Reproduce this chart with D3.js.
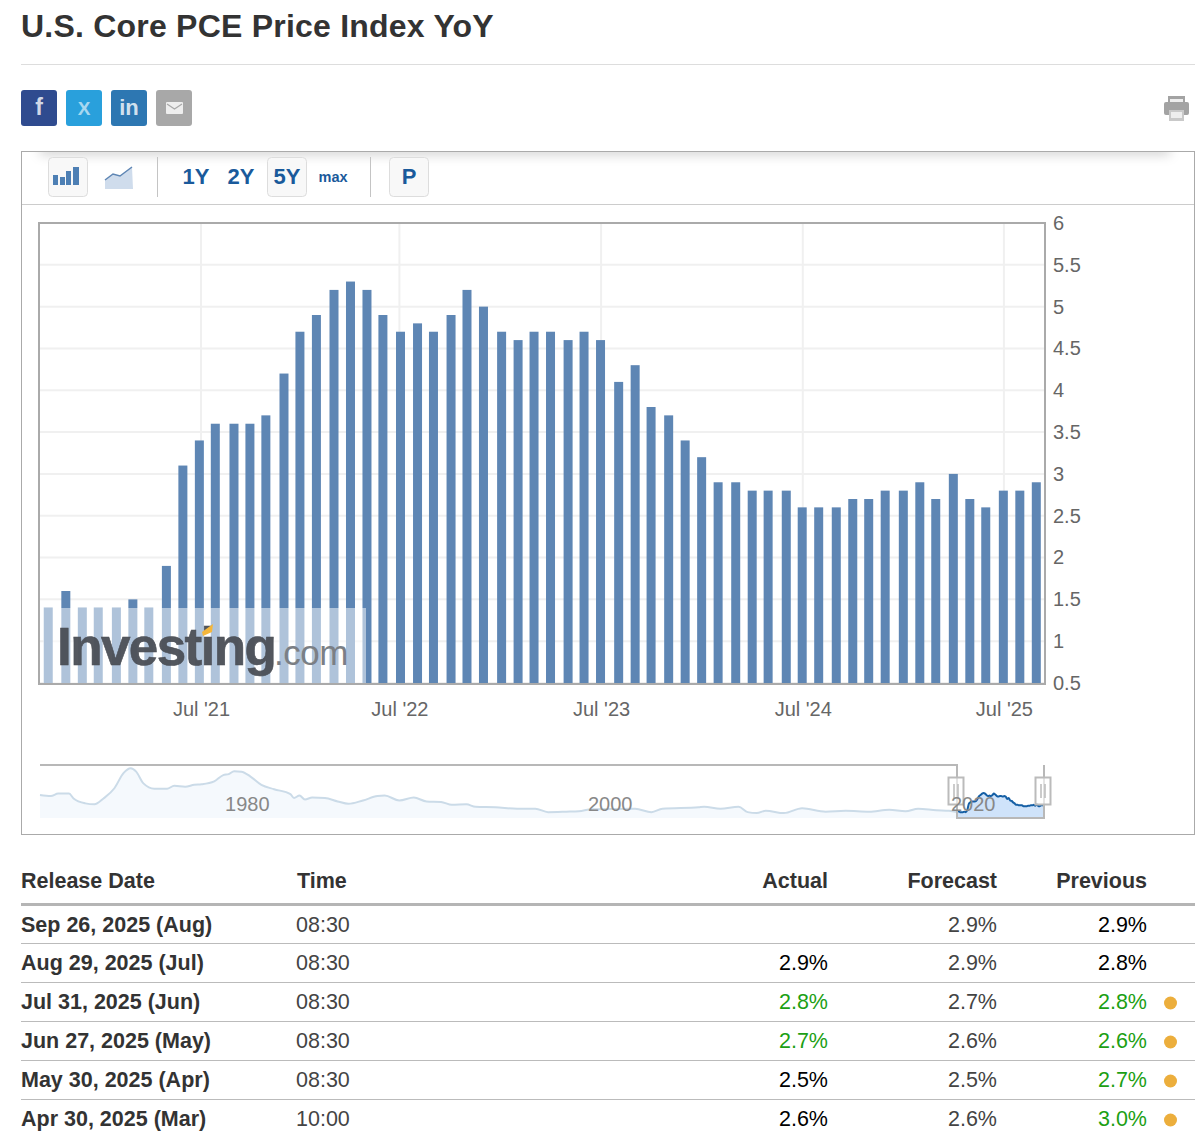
<!DOCTYPE html>
<html>
<head>
<meta charset="utf-8">
<title>U.S. Core PCE Price Index YoY</title>
<script src="https://cdn.jsdelivr.net/npm/d3@7"></script>
<style>
    html, body { margin: 0; padding: 0; background: #fff; }
    svg { display: block; }
    text { font-family: "Liberation Sans", Arial, sans-serif; }
</style>
</head>
<body>
<svg id="drawSpace" width="1200" height="1136"></svg>
<script>
// Chart data: one bar per monthly point, dates
let barDays = [
    "2020-09-26","2020-10-28","2020-11-27","2020-12-26",
    "2021-01-28","2021-02-27","2021-03-28","2021-04-29","2021-05-29","2021-06-28",
    "2021-07-27","2021-08-30","2021-09-28","2021-10-27","2021-11-29","2021-12-28",
    "2022-01-27","2022-02-28","2022-03-30","2022-04-29","2022-05-28","2022-06-29",
    "2022-07-30","2022-08-28","2022-09-29","2022-10-28","2022-11-27","2022-12-30",
    "2023-01-29","2023-02-27","2023-03-29","2023-04-30","2023-05-29","2023-06-28",
    "2023-07-31","2023-08-30","2023-09-28","2023-10-30","2023-11-29","2023-12-29",
    "2024-01-28","2024-02-29","2024-03-30","2024-04-28","2024-05-31","2024-06-29",
    "2024-07-29","2024-08-30","2024-09-29","2024-10-28","2024-11-27","2024-12-30",
    "2025-01-29","2025-02-27","2025-03-31","2025-04-30","2025-05-29","2025-06-30",
    "2025-07-30","2025-08-29"
]
let coreValues = [
    1.4,1.6,1.4,1.4,1.4,1.5,1.4,1.9,3.1,3.4,
    3.6,3.6,3.6,3.7,4.2,4.7,4.9,5.2,5.3,5.2,
    4.9,4.7,4.8,4.7,4.9,5.2,5.0,4.7,4.6,4.7,
    4.7,4.6,4.7,4.6,4.1,4.3,3.8,3.7,3.4,3.2,
    2.9,2.9,2.8,2.8,2.8,2.6,2.6,2.6,2.7,2.7,
    2.8,2.8,2.9,2.7,3.0,2.7,2.6,2.8,2.8,2.9
]
let yTicks = [0.5,1,1.5,2,2.5,3,3.5,4,4.5,5,5.5,6]
// The source snaps its ticks to nearby points, hence not quite the 1st of July
let xTickDays = ["2021-07-01","2022-06-27","2023-06-29","2024-06-30","2025-07-01"]
let xTickLabels = ["Jul '21","Jul '22","Jul '23","Jul '24","Jul '25"]

// Navigator history
let navYears = [
    1970.2,1970.8,1971.2,1971.8,1972.05,1972.7,1973.2,1973.7,1974.3,1974.8,1975.2,1975.5,1975.9,
    1976.5,1977.2,1977.6,1978.2,1978.7,1979.1,1979.8,1980.3,1980.6,1980.9,1981.3,1981.8,1982.4,
    1983.1,1984,1984.2,1984.5,1984.8,1985.2,1985.9,1986.6,1987.2,1988,1988.8,1989.2,1990,
    1990.8,1991.5,1992.3,1992.9,1993.7,1994.2,1995.3,1996.5,1997.5,1998.2,1999.2,1999.9,
    2000.6,2003,2003.9,2004.5,2006.5,2006.8,2007.7,2008.7,2009.2,2009.7,
    2010.2,2011.2,2012.2,2013.5,2014.6,2015.9,2017,2017.9,2018.6,2019.6,2020.3
]
let navValues = [
    4.9,4.7,5.2,5.2,4.2,3.2,3.0,4.2,6.3,9.4,10.4,9.7,7.3,
    6.2,6.2,6.8,6.6,7.0,7.1,7.7,9.0,9.2,9.8,9.7,8.7,7.0,
    6.1,5.1,4.3,4.8,4.0,4.4,4.3,3.6,3.1,3.8,4.7,4.8,3.8,
    4.4,3.6,3.5,2.9,3.0,2.5,2.4,2.1,2.1,1.4,1.5,1.6,
    2.0,2.1,1.4,2.1,2.4,2.5,2.1,2.5,1.4,1.2,
    1.7,1.2,2.2,1.5,1.7,1.5,1.9,1.6,2.1,1.8,1.7
]
let navTicks = [1980,2000,2020]

// Table under the chart
let tableHeads = ["Release Date","Time","Actual","Forecast","Previous"]
let rowDates = ["Sep 26, 2025 (Aug)","Aug 29, 2025 (Jul)","Jul 31, 2025 (Jun)","Jun 27, 2025 (May)","May 30, 2025 (Apr)","Apr 30, 2025 (Mar)"]
let rowTimes = ["08:30","08:30","08:30","08:30","08:30","10:00"]
let rowActual = ["","2.9%","2.8%","2.7%","2.5%","2.6%"]
let rowForecast = ["2.9%","2.9%","2.7%","2.6%","2.5%","2.6%"]
let rowPrevious = ["2.9%","2.8%","2.8%","2.6%","2.7%","3.0%"]
let rowRevised = [false,false,true,true,true,true]

let buttonLabels = ["1Y","2Y","5Y","max"]

// Global settings
let barColor = "#5e86b4"
let gridColor = "#f0f0f0"
let borderColor = "#aaaaaa"
let linkColor = "#1a5a9b"
let greenColor = "#1c9f14"
let tableFont = 21.5

let svg = d3.select("#drawSpace")
let parseDay = d3.utcParse("%Y-%m-%d")

function renderHeader(drawSpace) {
    drawSpace.append("text").attr("x", 21).attr("y", 37)
        .attr("font-size", 32).attr("font-weight", "bold").attr("fill", "#333")
        .attr("letter-spacing", 0.22)
        .text("U.S. Core PCE Price Index YoY")
    drawSpace.append("line").attr("x1", 21).attr("x2", 1195).attr("y1", 64.5).attr("y2", 64.5)
        .attr("stroke", "#dddddd")

    // Share buttons
    let shares = [
        {x: 21, c: "#2f4b8f", t: "f", s: 23},
        {x: 66, c: "#29a0dc", t: "X", s: 19},
        {x: 111, c: "#2d77b2", t: "in", s: 22},
        {x: 156, c: "#a8a8a8", t: "", s: 0}
    ]
    let btn = drawSpace.selectAll("g.share").data(shares).enter().append("g").attr("class", "share")
    btn.append("rect").attr("x", d => d.x).attr("y", 90).attr("width", 36).attr("height", 36)
        .attr("rx", 3).attr("fill", d => d.c)
    btn.append("text").attr("x", d => d.x + 18).attr("y", 115).attr("text-anchor", "middle")
        .attr("font-size", d => d.s).attr("font-weight", "bold")
        .attr("fill", "#fff").attr("fill-opacity", d => d.t === "X" ? 0.6 : 0.8).text(d => d.t)
    drawSpace.append("rect").attr("x", 166).attr("y", 102).attr("width", 17).attr("height", 12)
        .attr("rx", 1).attr("fill", "#eeeeee")
    drawSpace.append("path").attr("d", "M167 104 L174.5 109 L182 104").attr("fill", "none")
        .attr("stroke", "#a8a8a8").attr("stroke-width", 1.2)

    // Printer
    let printer = drawSpace.append("g").attr("fill", "#a3a3a3")
    printer.append("rect").attr("x", 1168).attr("y", 96).attr("width", 17).attr("height", 7)
    printer.append("rect").attr("x", 1164).attr("y", 102).attr("width", 25).attr("height", 13).attr("rx", 2)
    printer.append("rect").attr("x", 1170).attr("y", 99).attr("width", 13).attr("height", 3).attr("fill", "#eee")
    printer.append("rect").attr("x", 1169).attr("y", 110).attr("width", 15).attr("height", 11).attr("fill", "#c9c9c9")
    printer.append("rect").attr("x", 1171).attr("y", 112).attr("width", 11).attr("height", 6).attr("fill", "#eee")
}

function renderToolbar(drawSpace) {
    // Soft shadow that fades out towards both ends of the box
    let defs = drawSpace.append("defs")
    defs.append("filter").attr("id", "soft").attr("x", "-5%").attr("width", "110%").attr("y", "-200%").attr("height", "500%")
        .append("feGaussianBlur").attr("stdDeviation", 6)
    defs.append("clipPath").attr("id", "boxClip").append("rect")
        .attr("x", 22).attr("y", 152).attr("width", 1172).attr("height", 50)
    drawSpace.append("g").attr("clip-path", "url(#boxClip)").append("rect")
        .attr("x", 40).attr("y", 146).attr("width", 1130).attr("height", 8)
        .attr("fill", "#000").attr("fill-opacity", 0.22).attr("filter", "url(#soft)")

    drawSpace.append("rect").attr("x", 21.5).attr("y", 151.5).attr("width", 1173).attr("height", 683)
        .attr("fill", "none").attr("stroke", borderColor)
    drawSpace.append("line").attr("x1", 22).attr("x2", 1194).attr("y1", 204.5).attr("y2", 204.5)
        .attr("stroke", "#cccccc")

    // Raised buttons and separators
    let raised = [48, 267, 389]
    drawSpace.selectAll("rect.tool").data(raised).enter().append("rect").attr("class", "tool")
        .attr("x", d => d + 0.5).attr("y", 157.5).attr("width", 39).attr("height", 39).attr("rx", 4)
        .attr("fill", "#f8f8f8").attr("stroke", "#dddddd")
    drawSpace.selectAll("line.sep").data([157.5, 370.5]).enter().append("line").attr("class", "sep")
        .attr("x1", d => d).attr("x2", d => d).attr("y1", 157).attr("y2", 197).attr("stroke", "#c4c4c4")

    // Bar icon
    let iconBars = [[53,5,10],[60,5,8],[66,5,14],[73,6,18]]
    drawSpace.selectAll("rect.icon").data(iconBars).enter().append("rect").attr("class", "icon")
        .attr("x", d => d[0]).attr("width", d => d[1]).attr("y", d => 185 - d[2]).attr("height", d => d[2])
        .attr("fill", "#4d7fb4")
    // Area icon
    drawSpace.append("path").attr("d", "M105 180 L113 174 L120 176 L132 167 L133 189 L105 189 Z").attr("fill", "#cfdcec")
    drawSpace.append("path").attr("d", "M105 180 L113 174 L120 176 L132 167").attr("fill", "none")
        .attr("stroke", "#5e86b4").attr("stroke-width", 1.5)

    let labelX = [196, 241, 287, 333]
    drawSpace.selectAll("text.range").data(buttonLabels).enter().append("text").attr("class", "range")
        .attr("x", (d, i) => labelX[i]).attr("y", d => d === "max" ? 182 : 184)
        .attr("text-anchor", "middle").attr("font-weight", "bold")
        .attr("font-size", d => d === "max" ? 14.5 : 22).attr("fill", linkColor).text(d => d)
    drawSpace.append("text").attr("x", 409).attr("y", 184).attr("text-anchor", "middle")
        .attr("font-weight", "bold").attr("font-size", 22).attr("fill", linkColor).text("P")
}

function renderBars(drawSpace) {
    let days = barDays.map(parseDay)
    let x = d3.scaleUtc()
        .domain([parseDay("2020-09-11"), parseDay("2025-09-12")])
        .range([40, 1044])
    let y = d3.scaleLinear().domain([0.5, 6]).range([683, 223])
    let tickDays = xTickDays.map(parseDay)

    // Grid
    drawSpace.selectAll("line.gridY").data(yTicks).enter().append("line").attr("class", "gridY")
        .attr("x1", 40).attr("x2", 1044).attr("y1", d => y(d)).attr("y2", d => y(d))
        .attr("stroke", gridColor).attr("stroke-width", 2)
    drawSpace.selectAll("line.gridX").data(tickDays).enter().append("line").attr("class", "gridX")
        .attr("x1", d => x(d)).attr("x2", d => x(d)).attr("y1", 223).attr("y2", 683)
        .attr("stroke", gridColor).attr("stroke-width", 2)

    // Bars
    drawSpace.selectAll("rect.bar").data(coreValues).enter().append("rect").attr("class", "bar")
        .attr("x", (d, i) => x(days[i]) - 4.5)
        .attr("width", 9)
        .attr("y", d => y(d))
        .attr("height", d => y(0.5) - y(d))
        .attr("fill", barColor)

    // Plot frame
    drawSpace.append("rect").attr("x", 39).attr("y", 223).attr("width", 1006).attr("height", 461)
        .attr("fill", "none").attr("stroke", borderColor).attr("stroke-width", 2)

    // Axes
    let yAxis = d3.axisRight(y).tickValues(yTicks).tickSize(0).tickPadding(8).tickFormat(d => d)
    drawSpace.append("g").attr("class", "axis").attr("transform", "translate(1045,0)").call(yAxis)
    let xAxis = d3.axisBottom(x).tickValues(tickDays).tickSize(0).tickPadding(18)
        .tickFormat((d, i) => xTickLabels[i])
    drawSpace.append("g").attr("class", "axis").attr("transform", "translate(0,684)").call(xAxis)
    drawSpace.selectAll(".axis path").remove()
    drawSpace.selectAll(".axis text").attr("font-size", 20).attr("fill", "#666666")
        .style("font-family", '"Liberation Sans", Arial, sans-serif')

    renderWatermark(drawSpace)
}

function renderWatermark(drawSpace) {
    drawSpace.append("rect").attr("x", 43).attr("y", 608).attr("width", 323).attr("height", 75)
        .attr("fill", "#fff").attr("fill-opacity", 0.5)
    drawSpace.append("text").attr("x", 57).attr("y", 665)
        .attr("font-size", 53).attr("font-weight", "bold").attr("letter-spacing", -1.6)
        .attr("fill", "#4a4e55").attr("fill-opacity", 0.95)
        .attr("stroke", "#4a4e55").attr("stroke-width", 0.6).text("Investing")
    drawSpace.append("text").attr("x", 274).attr("y", 665)
        .attr("font-size", 35).attr("letter-spacing", -0.5)
        .attr("fill", "#7b7f85").text(".com")
    drawSpace.append("path").attr("d", "M202 632 L213 624 L212 632 L203 636 Z").attr("fill", "#f5b73c")
}

function renderNavigator(drawSpace) {
    // Window of the main chart, as fractional years
    let toYear = d => {
        let day = parseDay(d)
        let start = Date.UTC(day.getUTCFullYear(), 0, 1)
        return day.getUTCFullYear() + (day - start) / (365.25 * 86400000)
    }
    let recent = barDays.map((d, i) => ({year: toYear(d), value: coreValues[i]}))
    let history = navYears.map((d, i) => ({year: d, value: navValues[i]}))
    history.push(recent[0])

    let firstYear = recent[0].year
    let lastYear = recent[recent.length - 1].year
    let x = d3.scaleLinear().domain([1970.2, firstYear, lastYear]).range([40, 957, 1044])
    let y = d3.scaleLinear().domain([0.2, 10.45]).range([818, 768])

    let area = d3.area().x(d => x(d.year)).y0(y(0.2)).y1(d => y(d.value)).curve(d3.curveMonotoneX)
    let line = d3.line().x(d => x(d.year)).y(d => y(d.value)).curve(d3.curveMonotoneX)

    drawSpace.append("path").attr("d", area(history)).attr("fill", "#f5f9fd")
    drawSpace.append("path").attr("d", line(history)).attr("fill", "none")
        .attr("stroke", "#cbdbe8").attr("stroke-width", 2)
    drawSpace.append("path").attr("d", area(recent)).attr("fill", "#cfe3fa")
    drawSpace.append("path").attr("d", line(recent)).attr("fill", "none")
        .attr("stroke", "#155fa5").attr("stroke-width", 2)

    // Outline around the selected window
    let left = x(firstYear)
    let right = x(lastYear)
    drawSpace.append("path")
        .attr("d", `M40 765 H${left} V${y(0.2)} H${right} V765`)
        .attr("fill", "none").attr("stroke", "#b8b8b8").attr("stroke-width", 2)

    // Handles
    let handles = drawSpace.selectAll("g.handle").data([left, right]).enter().append("g").attr("class", "handle")
    handles.append("rect").attr("x", d => d - 8.5).attr("y", 777.5).attr("width", 15).attr("height", 27)
        .attr("fill", "#fff").attr("fill-opacity", 0.6).attr("stroke", "#bbbbbb").attr("stroke-width", 2)
    handles.append("path").attr("d", d => `M${d - 3} 784 V798 M${d + 1} 784 V798`)
        .attr("stroke", "#bbbbbb").attr("stroke-width", 1.5).attr("fill", "none")

    // Labels sit to the right of their year, like the source
    let axis = d3.axisBottom(x).tickValues(navTicks).tickSize(0).tickPadding(0).tickFormat(d3.format("d"))
    let g = drawSpace.append("g").attr("transform", "translate(29,797)").call(axis)
    g.select("path").remove()
    g.selectAll("text").attr("font-size", 20).attr("fill", "#888888")
        .style("font-family", '"Liberation Sans", Arial, sans-serif')
}

function renderTable(drawSpace) {
    let colX = [21, 297, 828, 997, 1147]
    let colAnchor = ["start", "start", "end", "end", "end"]
    let rowBase = [932, 970, 1009, 1048, 1087, 1126]
    let ruleY = [943.5, 982.5, 1021.5, 1060.5, 1099.5]

    drawSpace.selectAll("text.head").data(tableHeads).enter().append("text").attr("class", "head")
        .attr("x", (d, i) => colX[i]).attr("y", 888).attr("text-anchor", (d, i) => colAnchor[i])
        .attr("font-size", tableFont).attr("font-weight", "bold").attr("fill", "#333").text(d => d)
    drawSpace.append("line").attr("x1", 21).attr("x2", 1195).attr("y1", 904.5).attr("y2", 904.5)
        .attr("stroke", "#b5b5b5").attr("stroke-width", 3)
    drawSpace.selectAll("line.rule").data(ruleY).enter().append("line").attr("class", "rule")
        .attr("x1", 21).attr("x2", 1195).attr("y1", d => d).attr("y2", d => d).attr("stroke", "#bbbbbb")

    let cell = (values, col, color, bold) => drawSpace.append("g").selectAll("text").data(values).enter().append("text")
        .attr("x", col === 1 ? 296 : colX[col]).attr("y", (d, i) => rowBase[i])
        .attr("text-anchor", colAnchor[col]).attr("font-size", tableFont)
        .attr("font-weight", bold ? "bold" : "normal").attr("fill", color).text(d => d)

    cell(rowDates, 0, "#333", true)
    cell(rowTimes, 1, "#444", false)
    cell(rowActual, 2, (d, i) => parseFloat(d) > parseFloat(rowForecast[i]) ? greenColor : "#000", false)
    cell(rowForecast, 3, "#444", false)
    cell(rowPrevious, 4, (d, i) => rowRevised[i] ? greenColor : "#000", false)

    drawSpace.selectAll("circle.revised").data(rowRevised).enter().filter(d => d).append("circle").attr("class", "revised")
        .attr("cx", 1170.5).attr("cy", (d, i) => rowBase[rowRevised.indexOf(true) + i] - 6).attr("r", 6.5)
        .attr("fill", "#ecae3c")
}

renderHeader(svg)
renderToolbar(svg)
renderBars(svg)
renderNavigator(svg)
renderTable(svg)
</script>
</body>
</html>
